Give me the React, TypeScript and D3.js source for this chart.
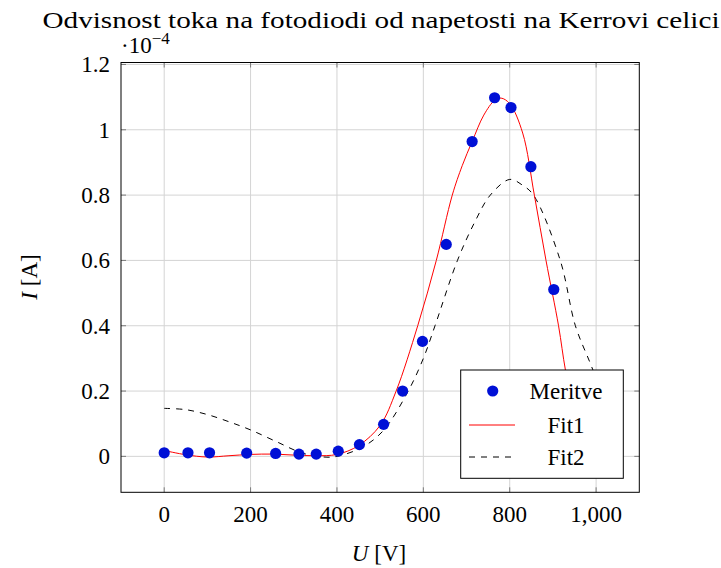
import React, { useEffect } from 'react';
import * as d3 from 'd3';

// measured points (U in V, I in 1e-4 A)
const voltage = [0, 55, 105, 191, 258, 312, 352, 403, 452, 508, 552, 598, 653, 713, 765, 803, 849, 902];
const current = [0.011, 0.011, 0.011, 0.010, 0.009, 0.007, 0.007, 0.016, 0.036, 0.098, 0.200, 0.352, 0.649, 0.964, 1.098, 1.068, 0.887, 0.511];

// fit curves
const fit1U = [0, 50, 100, 150, 200, 250, 300, 350, 400, 450, 500, 537, 587, 630, 667, 690, 713, 740, 765, 780, 800, 830, 857, 884, 913, 929, 950];
const fit1I = [0.018, 0.005, -0.002, 0.002, 0.006, 0.007, 0.004, 0.002, 0.006, 0.033, 0.095, 0.2, 0.4, 0.6, 0.8, 0.89, 0.964, 1.045, 1.09, 1.097, 1.08, 0.99, 0.8, 0.6, 0.4, 0.264, 0.13];
const fit2U = [0, 50, 100, 150, 200, 260, 320, 370, 400, 460, 508, 565, 600, 627, 679, 720, 755, 800, 830, 855, 917, 952, 985, 1000];
const fit2I = [0.147, 0.143, 0.128, 0.106, 0.081, 0.045, 0.01, -0.002, 0.0, 0.029, 0.08, 0.2, 0.3, 0.4, 0.6, 0.72, 0.8, 0.848, 0.83, 0.8, 0.6, 0.4, 0.29, 0.24];

const xTicks = [0, 200, 400, 600, 800, 1000];
const xTickLabels = ['0', '200', '400', '600', '800', '1,000'];
const yTicks = [0, 0.2, 0.4, 0.6, 0.8, 1, 1.2];
const yTickLabels = ['0', '0.2', '0.4', '0.6', '0.8', '1', '1.2'];

const font = '"Liberation Serif", "DejaVu Serif", serif';

const App: React.FC = () => {
    useEffect(() => {
        document.body.style.margin = '0';
    }, []);

    const left = 121, right = 639.3, top = 62.5, bottom = 492.3;
    const x = d3.scaleLinear().domain([-100, 1100]).range([left, right]);
    const y = d3.scaleLinear().domain([-0.11, 1.206]).range([bottom, top]);

    const line = d3.line<[number, number]>()
        .x(d => x(d[0]))
        .y(d => y(d[1]))
        .curve(d3.curveCatmullRom.alpha(0.5));

    const fit1 = fit1U.map((u, i) => [u, fit1I[i]] as [number, number]);
    const fit2 = fit2U.map((u, i) => [u, fit2I[i]] as [number, number]);

    const tickLen = 5;
    const legend = { x: 460.7, y: 370, w: 162.6, h: 108.3 };
    const rowY = [391, 425, 457];

    return (
        <svg width={721} height={568} style={{ display: 'block', background: 'white' }} fontFamily={font}>
            <defs>
                <clipPath id="plot-area">
                    <rect x={left} y={top} width={right - left} height={bottom - top} />
                </clipPath>
            </defs>

            {/* grid */}
            {xTicks.map(t => (
                <line key={'gx' + t} x1={x(t)} x2={x(t)} y1={top} y2={bottom} stroke="#d4d4d4" strokeWidth={1} />
            ))}
            {yTicks.map(t => (
                <line key={'gy' + t} x1={left} x2={right} y1={y(t)} y2={y(t)} stroke="#d4d4d4" strokeWidth={1} />
            ))}

            {/* ticks, inward on all sides */}
            {xTicks.map(t => (
                <g key={'tx' + t} stroke="#7a7a7a" strokeWidth={1}>
                    <line x1={x(t)} x2={x(t)} y1={bottom} y2={bottom - tickLen} />
                    <line x1={x(t)} x2={x(t)} y1={top} y2={top + tickLen} />
                </g>
            ))}
            {yTicks.map(t => (
                <g key={'ty' + t} stroke="#7a7a7a" strokeWidth={1}>
                    <line x1={left} x2={left + tickLen} y1={y(t)} y2={y(t)} />
                    <line x1={right} x2={right - tickLen} y1={y(t)} y2={y(t)} />
                </g>
            ))}

            {/* curves */}
            <g clipPath="url(#plot-area)">
                <path d={line(fit2) || ''} fill="none" stroke="black" strokeWidth={1} strokeDasharray="6,6" />
                <path d={line(fit1) || ''} fill="none" stroke="#ff0000" strokeWidth={1} />
                {voltage.map((u, i) => (
                    <circle key={'p' + i} cx={x(u)} cy={y(current[i])} r={5.6} fill="#0010d6" />
                ))}
            </g>

            {/* frame */}
            <rect x={left} y={top} width={right - left} height={bottom - top} fill="none" stroke="black" strokeWidth={1} />

            {/* tick labels */}
            {xTicks.map((t, i) => (
                <text key={'lx' + t} x={x(t)} y={522} textAnchor="middle" fontSize={23}>{xTickLabels[i]}</text>
            ))}
            {yTicks.map((t, i) => (
                <text key={'ly' + t} x={110} y={y(t) + 8} textAnchor="end" fontSize={23}>{yTickLabels[i]}</text>
            ))}
            <text x={121} y={53} fontSize={23}>·10<tspan dy={-9} fontSize={17}>−4</tspan></text>

            {/* axis labels */}
            <text x={379} y={561} textAnchor="middle" fontSize={23}>
                <tspan fontStyle="italic">U</tspan> [V]
            </text>
            <text transform="translate(37,277) rotate(-90)" textAnchor="middle" fontSize={23}>
                <tspan fontStyle="italic">I</tspan> [A]
            </text>

            {/* title */}
            <text x={381} y={28} textAnchor="middle" fontSize={24} textLength={677} lengthAdjust="spacingAndGlyphs">
                Odvisnost toka na fotodiodi od napetosti na Kerrovi celici
            </text>

            {/* legend */}
            <rect x={legend.x} y={legend.y} width={legend.w} height={legend.h} fill="white" stroke="black" strokeWidth={1} />
            <circle cx={492.7} cy={rowY[0]} r={5.6} fill="#0010d6" />
            <line x1={469} x2={515} y1={rowY[1]} y2={rowY[1]} stroke="#ff0000" strokeWidth={1} />
            <line x1={469} x2={515} y1={rowY[2]} y2={rowY[2]} stroke="black" strokeWidth={1} strokeDasharray="6,6" />
            {['Meritve', 'Fit1', 'Fit2'].map((s, i) => (
                <text key={s} x={566} y={rowY[i] + 8} textAnchor="middle" fontSize={23}>{s}</text>
            ))}
        </svg>
    );
};

export default App;
